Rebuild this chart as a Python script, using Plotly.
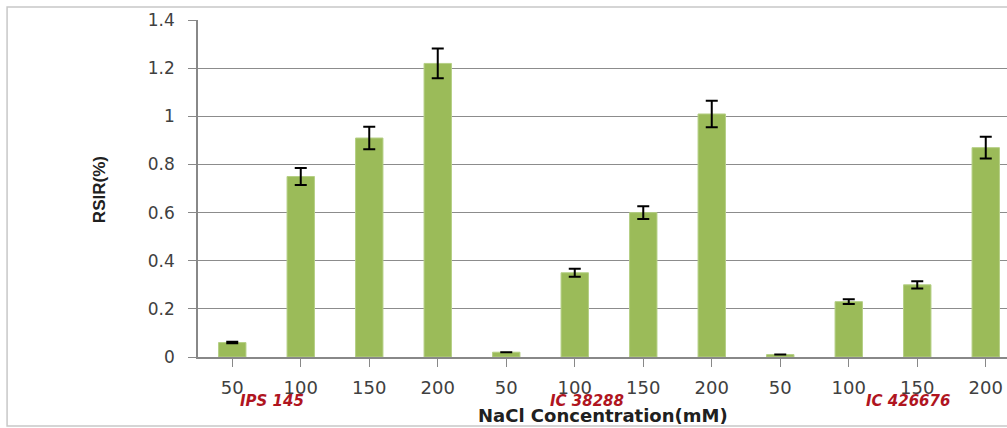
import plotly.graph_objects as go

categories = ["50", "100", "150", "200", "50", "100", "150", "200", "50", "100", "150", "200"]
rsir = [0.06, 0.75, 0.91, 1.22, 0.02, 0.35, 0.60, 1.01, 0.01, 0.23, 0.30, 0.87]
rsir_err = [0.003, 0.035, 0.047, 0.062, 0.0, 0.017, 0.027, 0.055, 0.0, 0.01, 0.015, 0.045]
genotypes = ["IPS 145", "IC 38288", "IC 426676"]
y_ticks = [0, 0.2, 0.4, 0.6, 0.8, 1.0, 1.2, 1.4]

xpos = list(range(len(categories)))

fig = go.Figure()
fig.add_trace(go.Bar(
    x=xpos, y=rsir, width=0.4,
    marker=dict(color="#9BBB59", line=dict(color="#B5CF85", width=1)),
    error_y=dict(type="data", array=rsir_err, visible=True, color="black", thickness=2, width=6),
))

label_x = [0.58, 5.18, 9.86]
for gx, name in zip(label_x, genotypes):
    fig.add_annotation(x=gx, y=-0.131, xref="x", yref="paper", yanchor="middle", text=f"<b><i>{name}</i></b>",
                       showarrow=False, font=dict(family="DejaVu Sans", size=15, color="#B0151F"))

fig.add_annotation(x=0.5, y=-0.174, xref="paper", yref="paper", yanchor="middle", text="<b>NaCl Concentration(mM)</b>",
                   showarrow=False, font=dict(family="DejaVu Sans", size=18, color="#202020"))

fig.add_annotation(x=-0.135, y=0.496, xref="paper", yref="paper", text="<b>RSIR(%)</b>", textangle=-90,
                   showarrow=False, font=dict(family="Liberation Sans", size=17, color="#202020"))

fig.add_shape(type="rect", xref="paper", yref="paper", x0=-0.236, x1=1.02, y0=-0.205, y1=1.0386,
              line=dict(color="#C8C8C8", width=1.5), layer="below")

fig.update_layout(
    width=1007, height=428,
    margin=dict(l=198, r=0, t=20, b=71),
    paper_bgcolor="white", plot_bgcolor="white",
    showlegend=False,
    xaxis=dict(
        range=[-0.5, 11.31], tickmode="array", tickvals=xpos, ticktext=categories,
        tickson="boundaries", ticks="outside", ticklen=8, tickcolor="#888888",
        showline=True, linecolor="#888888", linewidth=1.5, showgrid=False,
        ticklabelstandoff=6,
        tickfont=dict(family="DejaVu Sans", size=18, color="#404040"),
    ),
    yaxis=dict(
        range=[0, 1.4005], tickmode="array", tickvals=y_ticks,
        ticktext=["0", "0.2", "0.4", "0.6", "0.8", "1", "1.2", "1.4"],
        ticks="outside", ticklen=8, tickcolor="#888888",
        showline=True, linecolor="#888888", linewidth=1.5,
        showgrid=True, gridcolor="#8C8C8C", gridwidth=1, zeroline=False,
        ticklabelstandoff=10,
        tickfont=dict(family="DejaVu Sans", size=17, color="#404040"),
    ),
)

fig.write_html("out.html", config={"displayModeBar": False},
               post_script="document.body.style.margin='0';")
